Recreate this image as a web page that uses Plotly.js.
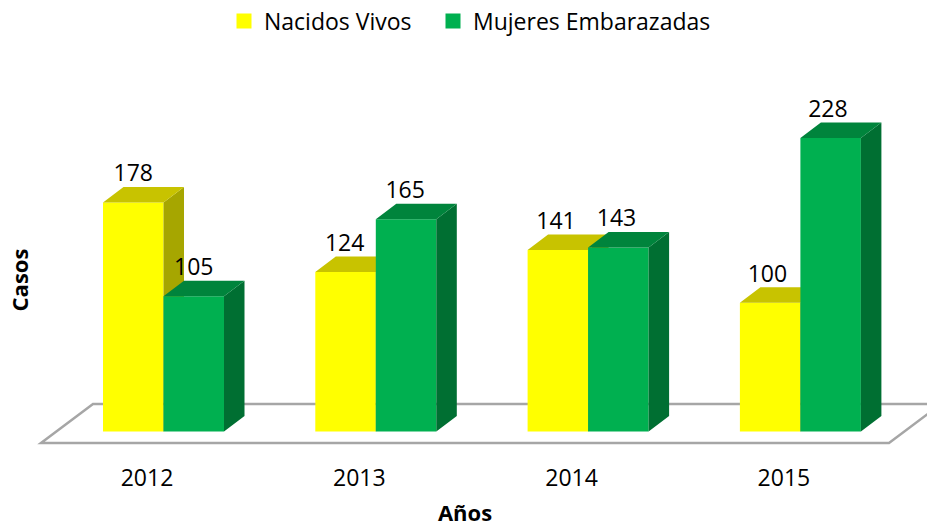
<!DOCTYPE html>
<html>
<head>
<meta charset="utf-8">
<script src="https://cdn.plot.ly/plotly-3.0.1.min.js"></script>
<style>html,body{margin:0;padding:0;background:#fff}#chart{width:927px;height:527px}</style>
</head>
<body>
<div id="chart"></div>
<script>
const years = ['2012', '2013', '2014', '2015'];
const nacidosVivos = [178, 124, 141, 100];
const mujeresEmbarazadas = [105, 165, 143, 228];
const seriesNames = ['Nacidos Vivos', 'Mujeres Embarazadas'];
const seriesColors = ['#ffff00', '#00b050'];

const FONT = '"Open Sans", "Noto Sans", sans-serif';
const W = 927, H = 527;
const M = {l: 40, r: 37, t: 98, b: 65, autoexpand: false};
const plotW = W - M.l - M.r, plotH = H - M.t - M.b;
const pxPerCat = 212.3, pxPerVal = 1.287;
const x0Px = 147, basePx = 431.5;

const xU = p => (p - x0Px) / pxPerCat;
const yU = p => (basePx - p) / pxPerVal;
const xRange = [xU(M.l), xU(W - M.r)];
const yRange = [yU(H - M.b), yU(M.t)];
const xP = p => (p - M.l) / plotW;
const yP = p => (H - M.b - p) / plotH;

const barW = 60.5 / pxPerCat;
const off1 = -44 / pxPerCat, off2 = off1 + barW;
const dX = 20.5 / pxPerCat, dY = 15.5 / pxPerVal;
const labelStep = 211.4 / pxPerCat;
const idx = years.map((_, i) => i);

function depth(vals, offset, sideColor, topColor, xa, ya) {
  const sx = [], sy = [], tx = [], ty = [];
  vals.forEach((v, i) => {
    const L = i + offset, R = L + barW;
    sx.push(R, R + dX, R + dX, R, R, null);
    sy.push(0, dY, v + dY, v, 0, null);
    tx.push(L, L + dX, R + dX, R, L, null);
    ty.push(v, v + dY, v + dY, v, v, null);
  });
  const base = {mode: 'lines', line: {width: 0}, fill: 'toself', hoverinfo: 'skip',
    showlegend: false, xaxis: xa, yaxis: ya, type: 'scatter'};
  return [
    Object.assign({}, base, {x: sx, y: sy, fillcolor: sideColor}),
    Object.assign({}, base, {x: tx, y: ty, fillcolor: topColor})
  ];
}

function bar(name, vals, offset, color, xa, ya) {
  return {type: 'bar', name, x: idx, y: vals, offset, width: barW, showlegend: false,
    marker: {color, line: {width: 0}}, xaxis: xa, yaxis: ya, hoverinfo: 'y'};
}

function labels(vals, offset) {
  return {type: 'scatter', mode: 'text', x: idx.map(i => i * labelStep + offset + barW / 2),
    y: vals.map(v => v + dY), text: vals.map(String), textposition: 'top center',
    textfont: {family: FONT, size: 23, color: '#000'}, cliponaxis: false,
    showlegend: false, hoverinfo: 'skip', xaxis: 'x2', yaxis: 'y2'};
}

function legendKey(name, color, legendId) {
  return {type: 'scatter', mode: 'markers', name, x: [null], y: [null], legend: legendId,
    marker: {symbol: 'square', size: 15, color}, showlegend: true, hoverinfo: 'skip'};
}

const data = [
  bar(seriesNames[0], nacidosVivos, off1, seriesColors[0], 'x', 'y'),
  ...depth(nacidosVivos, off1, '#a6a600', '#c8c300', 'x', 'y'),
  bar(seriesNames[1], mujeresEmbarazadas, off2, seriesColors[1], 'x2', 'y2'),
  ...depth(mujeresEmbarazadas, off2, '#006f32', '#00843c', 'x2', 'y2'),
  labels(nacidosVivos, off1),
  labels(mujeresEmbarazadas, off2),
  legendKey(seriesNames[0], seriesColors[0], 'legend'),
  legendKey(seriesNames[1], seriesColors[1], 'legend2')
];

const floorPath = 'M' + xP(41) + ',' + yP(443) + ' L' + xP(93) + ',' + yP(404) +
  ' L' + xP(941) + ',' + yP(404) + ' L' + xP(889) + ',' + yP(443) + ' Z';

const legendBase = {orientation: 'h', yanchor: 'middle', y: yP(21), xanchor: 'left',
  font: {family: FONT, size: 23, color: '#000'}, itemclick: false, itemdoubleclick: false,
  bgcolor: 'rgba(0,0,0,0)'};

const layout = {
  width: W, height: H,
  margin: M,
  paper_bgcolor: '#fff', plot_bgcolor: 'rgba(0,0,0,0)',
  showlegend: true,
  legend: Object.assign({}, legendBase, {x: xP(224)}),
  legend2: Object.assign({}, legendBase, {x: xP(433)}),
  font: {family: FONT, color: '#000'},
  xaxis: {
    type: 'linear', range: xRange, tickmode: 'array', tickvals: idx, ticktext: years,
    showgrid: false, zeroline: false, showline: false, ticks: '', fixedrange: true,
    tickfont: {family: FONT, size: 23, color: '#000'},
    title: {text: '<b>Años</b>', font: {family: FONT, size: 22, color: '#000'}, standoff: 24}
  },
  yaxis: {
    range: yRange, showgrid: false, zeroline: false, showline: false, showticklabels: false,
    ticks: '', fixedrange: true,
    title: {text: '<b>Casos</b>', font: {family: FONT, size: 22, color: '#000'}, standoff: 4}
  },
  xaxis2: {overlaying: 'x', range: xRange, visible: false, fixedrange: true},
  yaxis2: {overlaying: 'y', range: yRange, visible: false, fixedrange: true},
  shapes: [{type: 'path', path: floorPath, xref: 'paper', yref: 'paper', layer: 'below',
    line: {color: '#a6a6a6', width: 2.5}, fillcolor: '#fff'}]
};

Plotly.newPlot('chart', data, layout, {displayModeBar: false, responsive: false});
</script>
</body>
</html>
